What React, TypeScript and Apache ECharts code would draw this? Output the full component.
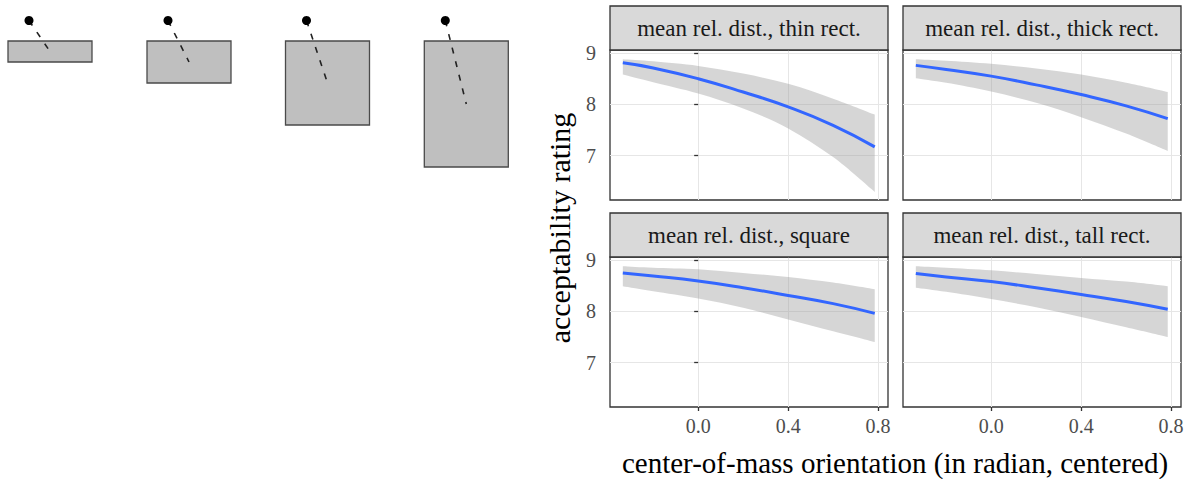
import React, { useEffect, useRef } from 'react';
import * as echarts from 'echarts';

// ---- data ----
const xs = [-0.335, -0.2, 0, 0.2, 0.4, 0.6, 0.785];

const panelTitles = [
  'mean rel. dist., thin rect.',
  'mean rel. dist., thick rect.',
  'mean rel. dist., square',
  'mean rel. dist., tall rect.',
];

const thinMean = [8.81, 8.71, 8.5, 8.24, 7.95, 7.59, 7.17];
const thinUpper = [8.88, 8.84, 8.75, 8.6, 8.4, 8.11, 7.8];
const thinLower = [8.58, 8.43, 8.21, 7.92, 7.53, 6.97, 6.29];

const thickMean = [8.76, 8.68, 8.55, 8.38, 8.19, 7.97, 7.72];
const thickUpper = [8.88, 8.85, 8.79, 8.7, 8.58, 8.42, 8.24];
const thickLower = [8.51, 8.42, 8.25, 8.03, 7.75, 7.43, 7.09];

const squareMean = [8.75, 8.69, 8.59, 8.46, 8.31, 8.15, 7.96];
const squareUpper = [8.88, 8.85, 8.82, 8.75, 8.67, 8.56, 8.43];
const squareLower = [8.49, 8.39, 8.25, 8.07, 7.84, 7.61, 7.4];

const tallMean = [8.74, 8.67, 8.58, 8.46, 8.33, 8.19, 8.04];
const tallUpper = [8.88, 8.85, 8.8, 8.73, 8.65, 8.58, 8.49];
const tallLower = [8.46, 8.38, 8.24, 8.08, 7.89, 7.69, 7.5];

const xTickLabels = [0, 0.4, 0.8];
const yTickLabels = [7, 8, 9];

const xAxisTitle = 'center-of-mass orientation (in radian, centered)';
const yAxisTitle = 'acceptability rating';

// rectangle aspect ratios (height / width) of the illustrated objects
const shapeRatios = [0.25, 0.5, 1, 1.5];

const FAMILY = "'Liberation Serif', 'Times New Roman', serif";

// Catmull-Rom spline through screen points, as SVG bezier segments
function splineSegments(pts: number[][]): string {
  let d = '';
  for (let i = 0; i < pts.length - 1; i++) {
    const p0 = pts[Math.max(0, i - 1)];
    const p1 = pts[i];
    const p2 = pts[i + 1];
    const p3 = pts[Math.min(pts.length - 1, i + 2)];
    const c1x = p1[0] + (p2[0] - p0[0]) / 6;
    const c1y = p1[1] + (p2[1] - p0[1]) / 6;
    const c2x = p2[0] - (p3[0] - p1[0]) / 6;
    const c2y = p2[1] - (p3[1] - p1[1]) / 6;
    d += ` C ${c1x} ${c1y} ${c2x} ${c2y} ${p2[0]} ${p2[1]}`;
  }
  return d;
}

export default function App() {
  const ref = useRef<HTMLDivElement>(null);

  useEffect(() => {
    if (!ref.current) return;
    const chart = echarts.init(ref.current, null, { renderer: 'svg' });

    const means = [thinMean, thickMean, squareMean, tallMean];
    const uppers = [thinUpper, thickUpper, squareUpper, tallUpper];
    const lowers = [thinLower, thickLower, squareLower, tallLower];

    const W = 278;
    const H = 150;
    const gridPos = [
      { left: 610, top: 50 },
      { left: 903, top: 50 },
      { left: 610, top: 257 },
      { left: 903, top: 257 },
    ];
    const stripH = 44;

    const grid = gridPos.map((p) => ({
      left: p.left,
      top: p.top,
      width: W,
      height: H,
      show: true,
      borderColor: '#333333',
      borderWidth: 1.3,
      backgroundColor: '#ffffff',
      containLabel: false,
      outerBoundsMode: 'none',
    }));

    const xAxis = gridPos.map((_, i) => {
      const bottom = i >= 2;
      return {
        type: 'value',
        gridIndex: i,
        min: -0.392,
        max: 0.844,
        splitNumber: 6,
        axisLine: { show: false },
        axisTick: {
          show: bottom,
          length: 4,
          customValues: xTickLabels,
          lineStyle: { color: '#333333', width: 1.3 },
        },
        axisLabel: {
          show: bottom,
          customValues: xTickLabels,
          formatter: (v: number) => v.toFixed(1),
          margin: 9,
          color: '#4d4d4d',
          fontFamily: FAMILY,
          fontSize: 20,
        },
        splitLine: { show: true, lineStyle: { color: '#e6e6e6', width: 1 } },
      };
    });

    const yAxis = gridPos.map((_, i) => {
      const left = i % 2 === 0;
      return {
        type: 'value',
        gridIndex: i,
        min: 6.133,
        max: 9.06,
        splitNumber: 5,
        axisLine: { show: false },
        axisTick: {
          show: left,
          length: 4,
          customValues: yTickLabels,
          lineStyle: { color: '#333333', width: 1.3 },
        },
        axisLabel: {
          show: left,
          customValues: yTickLabels,
          formatter: (v: number) => String(v),
          margin: 14,
          color: '#4d4d4d',
          fontFamily: FAMILY,
          fontSize: 20,
        },
        splitLine: { show: true, lineStyle: { color: '#e6e6e6', width: 1 } },
      };
    });

    const series: any[] = [];
    for (let i = 0; i < 4; i++) {
      const up = uppers[i];
      const lo = lowers[i];
      series.push({
        type: 'custom',
        xAxisIndex: i,
        yAxisIndex: i,
        data: [[xs[0], up[0]]],
        renderItem: (_params: any, api: any) => {
          const upPts = xs.map((x, k) => api.coord([x, up[k]]));
          const loPts = xs.map((x, k) => api.coord([x, lo[k]])).reverse();
          const d =
            `M ${upPts[0][0]} ${upPts[0][1]}` +
            splineSegments(upPts) +
            ` L ${loPts[0][0]} ${loPts[0][1]}` +
            splineSegments(loPts) +
            ' Z';
          return {
            type: 'path',
            shape: { pathData: d },
            style: { fill: 'rgba(153,153,153,0.4)', stroke: 'none' },
          };
        },
        z: 2,
        silent: true,
      });
      series.push({
        type: 'line',
        xAxisIndex: i,
        yAxisIndex: i,
        smooth: true,
        symbol: 'none',
        lineStyle: { color: '#3366ff', width: 3 },
        data: xs.map((x, k) => [x, means[i][k]]),
        z: 3,
      });
    }

    const graphics: any[] = [];
    // strips
    gridPos.forEach((p, i) => {
      graphics.push({
        type: 'rect',
        shape: { x: p.left, y: p.top - stripH, width: W, height: stripH },
        style: { fill: '#d9d9d9', stroke: '#333333', lineWidth: 1.3 },
        z: 10,
      });
      graphics.push({
        type: 'text',
        x: p.left + W / 2,
        y: p.top - stripH / 2,
        style: {
          text: panelTitles[i],
          fill: '#1a1a1a',
          font: `23px ${FAMILY}`,
          align: 'center',
          verticalAlign: 'middle',
        },
        z: 11,
      });
    });
    // axis titles
    graphics.push({
      type: 'text',
      x: 895,
      y: 463,
      style: {
        text: xAxisTitle,
        fill: '#000000',
        font: `29px ${FAMILY}`,
        align: 'center',
        verticalAlign: 'middle',
      },
    });
    graphics.push({
      type: 'text',
      x: 559,
      y: 228,
      rotation: Math.PI / 2,
      style: {
        text: yAxisTitle,
        fill: '#000000',
        font: `30px ${FAMILY}`,
        align: 'center',
        verticalAlign: 'middle',
      },
    });

    // illustrations of the four objects
    const rectW = 84;
    const rectTop = 41;
    const rectLefts = [8, 147, 285.5, 424.3];
    shapeRatios.forEach((r, i) => {
      const h = rectW * r;
      const lx = rectLefts[i];
      const dotX = lx + rectW / 4;
      const dotY = 20.5;
      graphics.push({
        type: 'rect',
        shape: { x: lx, y: rectTop, width: rectW, height: h },
        style: { fill: '#bfbfbf', stroke: '#4a4a4a', lineWidth: 1.3 },
        z: 1,
      });
      graphics.push({
        type: 'line',
        shape: { x1: dotX, y1: dotY, x2: lx + rectW / 2, y2: rectTop + h / 2 },
        style: { stroke: '#222222', lineWidth: 1.6, lineDash: [6, 8] },
        z: 2,
      });
      graphics.push({
        type: 'circle',
        shape: { cx: dotX, cy: dotY, r: 4.5 },
        style: { fill: '#000000' },
        z: 3,
      });
    });

    chart.setOption({
      animation: false,
      backgroundColor: '#ffffff',
      grid,
      xAxis,
      yAxis,
      series,
      graphic: graphics,
    });

    return () => {
      chart.dispose();
    };
  }, []);

  return (
    <div
      ref={ref}
      style={{ position: 'fixed', left: 0, top: 0, width: 1191, height: 479 }}
    />
  );
}
